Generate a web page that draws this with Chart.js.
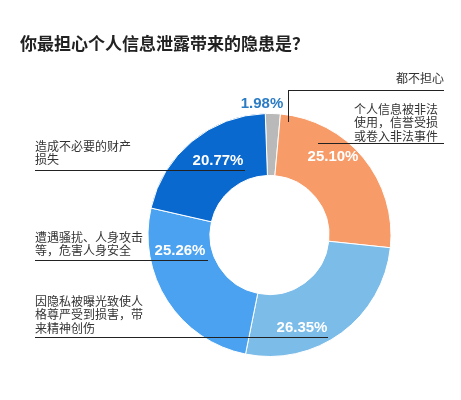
<!DOCTYPE html>
<html>
<head>
<meta charset="utf-8">
<script src="https://cdn.jsdelivr.net/npm/chart.js@4"></script>
<style>
  html, body { margin: 0; padding: 0; background: #fff; }
  #wrap { width: 461px; height: 400px; position: relative; }
</style>
</head>
<body>
<div id="wrap"><canvas id="pie"></canvas></div>
<script>
const title = "你最担心个人信息泄露带来的隐患是？";
const labels = ["都不担心", "个人信息被非法使用，信誉受损或卷入非法事件", "因隐私被曝光致使人格尊严受到损害，带来精神创伤", "遭遇骚扰、人身攻击等，危害人身安全", "造成不必要的财产损失"];
const values = [1.98, 25.10, 26.35, 25.26, 20.77];
const colors = ["#b9b9b9", "#f79b69", "#7cbce9", "#4aa2f1", "#0a69cf"];

// annotation text: lines, anchor, line under text
const notes = [
  { lines: ["都不担心"], x: 444, y: 78, align: "right", rule: [288, 444, 90], drop: 122, pct: [262, 104, "#2b7cc4"] },
  { lines: ["个人信息被非法", "使用，信誉受损", "或卷入非法事件"], x: 354, y: 109, align: "left", rule: [318, 444, 143], pct: [333, 157, "#fff"] },
  { lines: ["因隐私被曝光致使人", "格尊严受到损害，带", "来精神创伤"], x: 35, y: 301, align: "left", rule: [35, 328, 337], pct: [302, 328, "#fff"] },
  { lines: ["遭遇骚扰、人身攻击", "等，危害人身安全"], x: 35, y: 237, align: "left", rule: [35, 208, 260], pct: [180, 251, "#fff"] },
  { lines: ["造成不必要的财产", "损失"], x: 35, y: 146, align: "left", rule: [35, 245, 170], pct: [218, 161, "#fff"] },
];

const notePlugin = {
  id: "notes",
  afterDraw(chart) {
    const c = chart.ctx;
    c.save();
    c.fillStyle = "#222";
    c.font = "bold 17px 'Noto Sans CJK SC'";
    c.textAlign = "left";
    c.textBaseline = "middle";
    c.fillText(title, 20, 44);
    notes.forEach((n, i) => {
      c.font = "12px 'Noto Sans CJK SC'";
      c.fillStyle = "#333";
      c.textAlign = n.align;
      n.lines.forEach((t, k) => c.fillText(t, n.x, n.y + k * 13.5));
      c.strokeStyle = "#222";
      c.lineWidth = 1;
      c.beginPath();
      c.moveTo(n.rule[0], n.rule[2] + 0.5);
      c.lineTo(n.rule[1], n.rule[2] + 0.5);
      if (n.drop) {
        c.moveTo(n.rule[0] + 0.5, n.rule[2]);
        c.lineTo(n.rule[0] + 0.5, n.drop);
      }
      c.stroke();
      c.font = "bold 15px Arial, 'Liberation Sans'";
      c.fillStyle = n.pct[2];
      c.textAlign = "center";
      c.fillText(values[i].toFixed(2) + "%", n.pct[0], n.pct[1]);
    });
    c.restore();
  },
};

new Chart(document.getElementById("pie"), {
  type: "doughnut",
  data: {
    labels,
    datasets: [{ data: values, backgroundColor: colors, borderColor: "#fff", borderWidth: 1 }],
  },
  options: {
    responsive: true,
    maintainAspectRatio: false,
    animation: false,
    cutout: "49%",
    rotation: -2,
    layout: { padding: { left: 147, right: 69, top: 113, bottom: 43 } },
    plugins: { legend: { display: false }, tooltip: { enabled: false } },
  },
  plugins: [notePlugin],
});
</script>
</body>
</html>
